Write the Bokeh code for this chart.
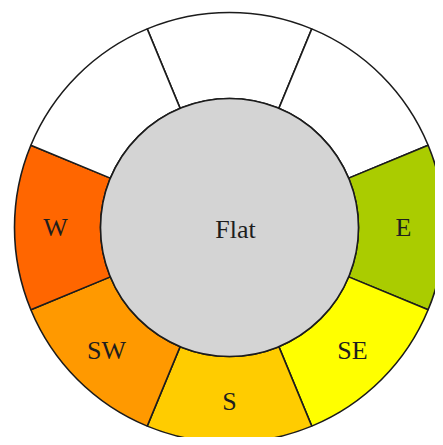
import math
from bokeh.plotting import figure
from bokeh.models import Range1d, ColumnDataSource
from bokeh.core.properties import value
from bokeh.embed import file_html
from bokeh.resources import INLINE

directions = ["N", "NE", "E", "SE", "S", "SW", "W", "NW"]
labels = ["", "", "E", "SE", "S", "SW", "W", ""]
colors = ["#FFFFFF", "#FFFFFF", "#AACC00", "#FFFF00", "#FFCC00", "#FF9900", "#FF6600", "#FFFFFF"]
centre_label = "Flat"

W, H = 435, 437
cx, cy = 229, 445 - 227
r_in, r_out = 129, 215
r_lab = 174

p = figure(width=W, height=H, output_backend="svg", toolbar_location=None,
           x_range=Range1d(0, W), y_range=Range1d(445 - H, 445), min_border=0)
p.axis.visible = False
p.grid.visible = False
p.outline_line_color = None
p.background_fill_color = "white"
p.border_fill_color = "white"

step = 2 * math.pi / len(directions)
mid = [math.pi / 2 - i * step for i in range(len(directions))]
src = ColumnDataSource(dict(
    start=[m - step / 2 for m in mid],
    end=[m + step / 2 for m in mid],
    color=colors,
    label=labels,
    lx=[cx + r_lab * math.cos(m) for m in mid],
    ly=[cy + r_lab * math.sin(m) for m in mid],
))

p.annular_wedge(x=cx, y=cy, inner_radius=r_in, outer_radius=r_out,
                start_angle="start", end_angle="end", fill_color="color",
                line_color="#1c1c1c", line_width=1.6, source=src)
p.circle(x=[cx], y=[cy], radius=r_in, fill_color="#D4D4D4",
         line_color="#1c1c1c", line_width=1.6)

p.text(x="lx", y="ly", text="label", source=src, text_font=value("Liberation Serif"),
       text_font_size="26px", text_color="#1e1e1e", text_align="center",
       text_baseline="middle")
p.text(x=[cx + 6], y=[cy - 2], text=[centre_label], text_font=value("Liberation Serif"),
       text_font_size="26px", text_color="#1e1e1e", text_align="center",
       text_baseline="middle")

open("out.html", "w").write(file_html(p, INLINE))
